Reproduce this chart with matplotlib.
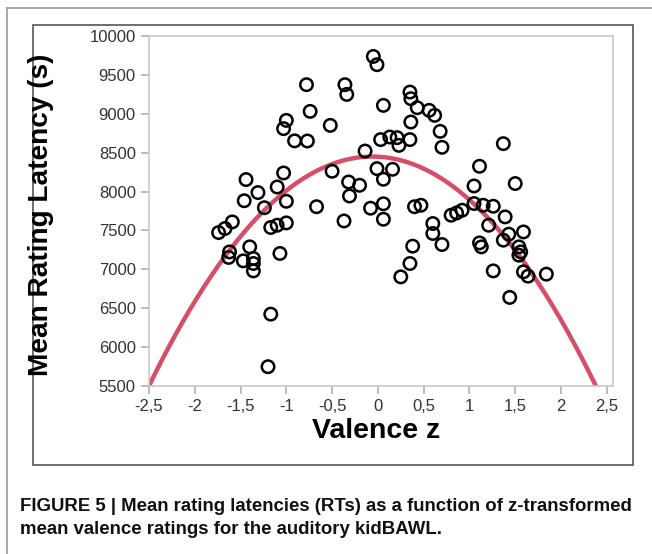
import numpy as np
import matplotlib
matplotlib.use("Agg")
import matplotlib.pyplot as plt
from matplotlib.lines import Line2D
from matplotlib.patches import Rectangle

# Valencia z y latencia media (ms) de cada palabra
valencia = [-1.74, -1.67, -1.59, -1.46, -1.44, -1.31, -1.24, -1.10, -1.03, -1.00,
            -1.62, -1.63, -1.40, -1.47, -1.36, -1.36, -1.36, -1.17, -1.10, -1.00,
            -1.07, -1.17, -1.20, -1.00, -1.03, -0.91, -0.78, -0.74, -0.52, -0.77,
            -0.36, -0.34, -0.05, -0.01, 0.06, 0.35, 0.36, 0.43, 0.56, 0.62,
            0.36, 0.68, 0.70, 0.03, 0.13, 0.21, 0.23, 0.35, -0.14, -0.01,
            0.16, 0.06, -0.50, -0.32, -0.20, -0.31, -0.67, -0.08, 0.06, 0.40,
            0.47, -0.37, 0.06, 0.60, 0.60, 0.70, 0.38, 0.35, 0.25, 0.80,
            0.86, 0.92, 1.37, 1.11, 1.05, 1.50, 1.05, 1.15, 1.26, 1.39,
            1.21, 1.59, 1.11, 1.13, 1.37, 1.43, 1.54, 1.56, 1.54, 1.59,
            1.64, 1.84, 1.26, 1.44]
latencia = [7473, 7525, 7610, 7882, 8154, 7987, 7792, 8059, 8239, 7875,
            7224, 7153, 7289, 7109, 7140, 7075, 6980, 7538, 7567, 7597,
            7204, 6424, 5748, 8915, 8809, 8652, 9374, 9031, 8851, 8650,
            9374, 9249, 9737, 9631, 9108, 9279, 9194, 9078, 9044, 8980,
            8894, 8774, 8569, 8668, 8701, 8693, 8594, 8668, 8521, 8295,
            8286, 8158, 8261, 8123, 8081, 7943, 7805, 7786, 7843, 7805,
            7824, 7622, 7644, 7589, 7461, 7319, 7298, 7075, 6903, 7696,
            7725, 7760, 8616, 8325, 8072, 8103, 7846, 7824, 7811, 7674,
            7567, 7481, 7340, 7289, 7375, 7452, 7289, 7224, 7182, 6968,
            6912, 6938, 6980, 6639]

# Ajuste cuadrático: c0 + c1*z + c2*z^2
coef = [8448, -59.4, -495.0]

xticks = [-2.5, -2, -1.5, -1, -0.5, 0, 0.5, 1, 1.5, 2, 2.5]
xlabels = ["-2,5", "-2", "-1,5", "-1", "-0,5", "0", "0,5", "1", "1,5", "2", "2,5"]
yticks = [5500, 6000, 6500, 7000, 7500, 8000, 8500, 9000, 9500, 10000]

fig = plt.figure(figsize=(6.52, 5.54), dpi=100)
ax = fig.add_axes([149/652, 1-386/554, 464/652, 350/554])

ax.scatter(valencia, latencia, s=80, facecolors="none", edgecolors="black",
           linewidths=1.8, zorder=3)

z = np.linspace(-2.6, 2.6, 400)
ajuste = coef[0] + coef[1]*z + coef[2]*z**2
ax.plot(z, ajuste, color="#d64f68", lw=3.2, zorder=2, solid_capstyle="butt")

ax.set_xlim(-2.5, 2.568)
ax.set_ylim(5500, 10000)
ax.set_xticks(xticks)
ax.set_xticklabels(xlabels)
ax.set_yticks(yticks)
for s in ax.spines.values():
    s.set_color("#c8c8c8")
    s.set_linewidth(1.2)
ax.tick_params(colors="#b0b0b0", labelcolor="#333333", labelsize=12,
               length=6, width=1.2, direction="out")
for lab in ax.get_xticklabels() + ax.get_yticklabels():
    lab.set_family(["Liberation Sans", "DejaVu Sans"])

fuente = dict(family=["Liberation Sans", "DejaVu Sans"], fontweight="bold")
fig.text(41/652, 1-215/554, "Mean Rating Latency (s)", rotation=90,
         ha="center", va="center", fontsize=20.2, color="black", **fuente)
fig.text(376/652, 1-431/554, "Valence z", ha="center", va="center",
         fontsize=20.5, color="black", **fuente)

# Marcos de la figura
fig.add_artist(Rectangle((33/652, 1-465/554), 600/652, 440/554,
                         transform=fig.transFigure, fill=False,
                         edgecolor="#555555", lw=1.2))
fig.add_artist(Line2D([7/652, 7/652], [0, 1-8/554], transform=fig.transFigure,
                      color="#999999", lw=1.2))
fig.add_artist(Line2D([7/652, 1], [1-8/554, 1-8/554], transform=fig.transFigure,
                      color="#999999", lw=1.2))

pie = ("FIGURE 5 | Mean rating latencies (RTs) as a function of z-transformed\n"
       "mean valence ratings for the auditory kidBAWL.")
fig.text(20/652, 1-498/554, pie, ha="left", va="top", fontsize=13.4,
         fontweight="bold", color="#111111", linespacing=1.45,
         family=["Liberation Sans", "DejaVu Sans"])

fig.savefig("out.png", dpi=100)
